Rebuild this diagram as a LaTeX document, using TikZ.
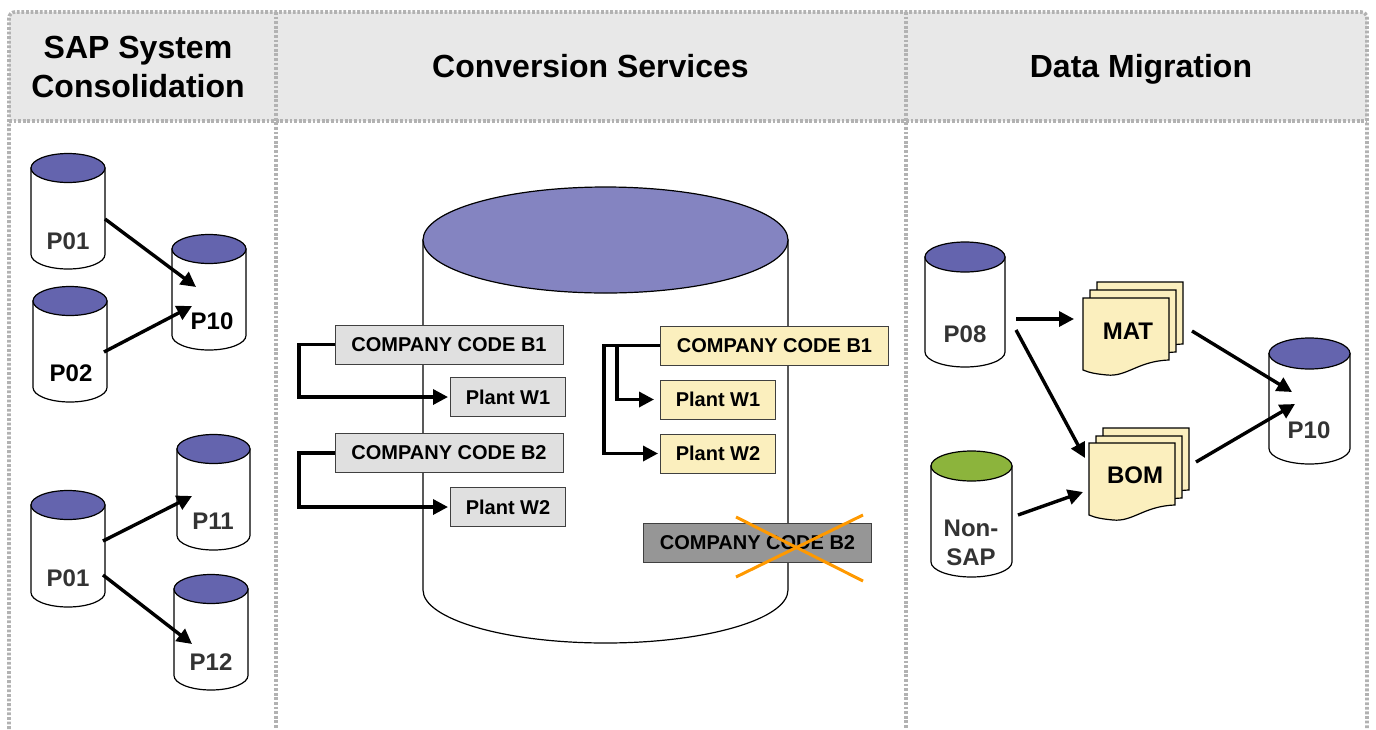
\documentclass[tikz,border=0pt]{standalone}
\usepackage{fontspec}
\setmainfont{Liberation Sans}
\usetikzlibrary{arrows.meta}
\definecolor{hdr}{HTML}{E8E8E8}
\definecolor{dots}{HTML}{B2B2B2}
\definecolor{cyltop}{HTML}{6464AE}
\definecolor{bigtop}{HTML}{8484C1}
\definecolor{greentop}{HTML}{8CB43C}
\definecolor{paper}{HTML}{FBEFBE}
\definecolor{lightbox}{HTML}{E0E0E0}
\definecolor{darkbox}{HTML}{969696}
\definecolor{cross}{HTML}{FF9900}
\definecolor{labelgray}{HTML}{333333}
\tikzset{
  frameline/.style={draw=dots,line width=1.8pt,dash pattern=on 1.4pt off 0.9pt},
  hdrtext/.style={font=\bfseries\fontsize{16}{19.5}\selectfont,align=center,text=black},
  cyllabel/.style={font=\bfseries\fontsize{12}{14.5}\selectfont,align=center,text=labelgray},
  doclabel/.style={font=\bfseries\fontsize{12}{14.5}\selectfont,align=center,text=black},
  cylline/.style={draw=black,line width=0.6pt},
  boxbase/.style={draw=black!75,line width=0.5pt,inner sep=0pt,minimum height=19.5pt,font=\bfseries\fontsize{10}{12}\selectfont,text=black},
  graybox/.style={boxbase,fill=lightbox},
  yellowbox/.style={boxbase,fill=paper},
  deadbox/.style={boxbase,fill=darkbox},
  wide/.style={minimum width=114pt},
  narrow/.style={minimum width=57.5pt},
  link/.style={draw=black,line width=1.7pt,-{Triangle[length=7.5pt,width=7.5pt]}},
  elbow/.style={link,line join=miter},
  xmark/.style={draw=cross,line width=1.5pt}
}
% left, right, ellipse centre y, ry, bottom, top colour
\newcommand{\cylshape}[6]{%
  \pgfmathsetmacro{\cxm}{(#1+#2)/2}%
  \pgfmathsetmacro{\crx}{(#2-#1)/2}%
  \pgfmathsetmacro{\cflat}{#5-#4}%
  \path[cylline,fill=white] (#1,#3) -- (#1,\cflat)
     .. controls (#1,{\cflat+0.55*#4}) and ({\cxm-0.55*\crx},#5) .. (\cxm,#5)
     .. controls ({\cxm+0.55*\crx},#5) and (#2,{\cflat+0.55*#4}) .. (#2,\cflat)
     -- (#2,#3) -- cycle;
  \path[cylline,fill=#6] (\cxm,#3) ellipse [x radius=\crx,y radius=#4];
}
% left, top of one page
\newcommand{\pageshape}[2]{%
  \begin{scope}[shift={(#1,#2)}]
  \path[cylline,fill=paper] (0,0) -- (86,0) -- (86,62)
    .. controls (55,63) and (44,79) .. (24,77)
    .. controls (14,76) and (7,75) .. (0,72) -- cycle;
  \end{scope}
}
\begin{document}
\begin{tikzpicture}[x=0.5pt,y=-0.5pt]
\useasboundingbox (0,0) rectangle (1376,729);
% frame
\fill[hdr,rounded corners=3pt] (9,121) -- (9,12) -- (1367,12) -- (1367,121) -- cycle;
\path[frameline,rounded corners=3pt] (9,729) -- (9,12) -- (1367,12) -- (1367,729);
\path[frameline] (9,121) -- (1367,121);
\path[frameline] (276,12) -- (276,729);
\path[frameline] (906,12) -- (906,729);
\node[hdrtext] (h1) at (138,67) {SAP System\\Consolidation};
\node[hdrtext,anchor=base] (h2) at (590.5,77.5) {Conversion Services};
\node[hdrtext,anchor=base] (h3) at (1141,77.5) {Data Migration};
% cylinders, column 1
\cylshape{31}{105}{168}{14.5}{269}{cyltop}
\node[cyllabel] (Pa) at (68,241) {P01};
\cylshape{33}{107}{301}{14.5}{402}{cyltop}
\node[cyllabel,text=black] (Pb) at (71,373) {P02};
\cylshape{172}{246}{249}{14.5}{350}{cyltop}
\node[cyllabel,text=black] (Pc) at (212,321) {P10};
\cylshape{31}{105}{505}{14.5}{607}{cyltop}
\node[cyllabel] (Pd) at (68,578) {P01};
\cylshape{177}{250}{449}{14.5}{550}{cyltop}
\node[cyllabel] (Pe) at (213,521) {P11};
\cylshape{174}{248}{589}{14.5}{690}{cyltop}
\node[cyllabel] (Pf) at (211,662) {P12};
\draw[link] ([shift={(37,-22)}]Pa.center) -- ([shift={(-16,-34)}]Pc.center);
\draw[link] ([shift={(33,-21)}]Pb.center) -- ([shift={(-20,-15)}]Pc.center);
\draw[link] ([shift={(35,-37)}]Pd.center) -- ([shift={(-21,-25)}]Pe.center);
\draw[link] ([shift={(35,-3)}]Pd.center) -- ([shift={(-19,-18)}]Pf.center);
% central cylinder
\cylshape{423}{788}{240}{53}{643}{bigtop}
\node[graybox,wide,text depth=0pt] (GB1) at (449,344.5) {COMPANY CODE B1};
\node[graybox,narrow] (GW1) at (508,397) {Plant W1};
\node[graybox,wide] (GB2) at (449,453) {COMPANY CODE B2};
\node[graybox,narrow] (GW2) at (508,507) {Plant W2};
\coordinate (ga) at (299,344.5);
\coordinate (gb) at (299,453);
\draw[elbow] (GB1.west) -- (ga) |- ([xshift=-1pt]GW1.west);
\draw[elbow] (GB2.west) -- (gb) |- ([xshift=-1pt]GW2.west);
\node[yellowbox,wide] (YB1) at (774.5,345.5) {COMPANY CODE B1};
\node[yellowbox,narrow] (YW1) at (718,399.5) {Plant W1};
\node[yellowbox,narrow] (YW2) at (718,453.5) {Plant W2};
\coordinate (ya) at (604,345.5);
\coordinate (yb) at (617,345.5);
\draw[elbow] (YB1.west) -- (ya) |- ([xshift=-1pt]YW2.west);
\draw[elbow] (yb) |- ([xshift=-3pt]YW1.west);
\node[deadbox,wide] (DB2) at (757.5,543) {COMPANY CODE B2};
\coordinate (xa) at (736,517);
\coordinate (xb) at (863,581);
\coordinate (xc) at (736,577);
\coordinate (xd) at (863,515);
\draw[xmark] (xa) -- (xb);
\draw[xmark] (xc) -- (xd);
% column 3
\cylshape{925}{1005}{257}{15}{367}{cyltop}
\node[cyllabel] (Pg) at (965,334) {P08};
\cylshape{931}{1012}{466}{15}{577}{greentop}
\node[cyllabel] (Ph) at (971,543) {Non-\\SAP};
\cylshape{1269}{1350}{353.5}{15.5}{464}{cyltop}
\node[cyllabel] (Pi) at (1309,430) {P10};
\pageshape{1097}{282}
\pageshape{1090}{290}
\pageshape{1083}{298}
\node[doclabel] (MAT) at (1128,331) {MAT};
\pageshape{1103}{428}
\pageshape{1096}{436}
\pageshape{1089}{443}
\node[doclabel] (BOM) at (1135,475) {BOM};
\draw[link] ([shift={(51,-15)}]Pg.center) -- ([shift={(-54,-12)}]MAT.center);
\draw[link] ([shift={(51,-4)}]Pg.center) -- ([shift={(-50,-17)}]BOM.center);
\draw[link] ([shift={(47,-28)}]Ph.center) -- ([shift={(-52,17)}]BOM.center);
\draw[link] ([shift={(64,0)}]MAT.center) -- ([shift={(-17,-38)}]Pi.center);
\draw[link] ([shift={(61,-13)}]BOM.center) -- ([shift={(-14,-26)}]Pi.center);
\end{tikzpicture}
\end{document}
